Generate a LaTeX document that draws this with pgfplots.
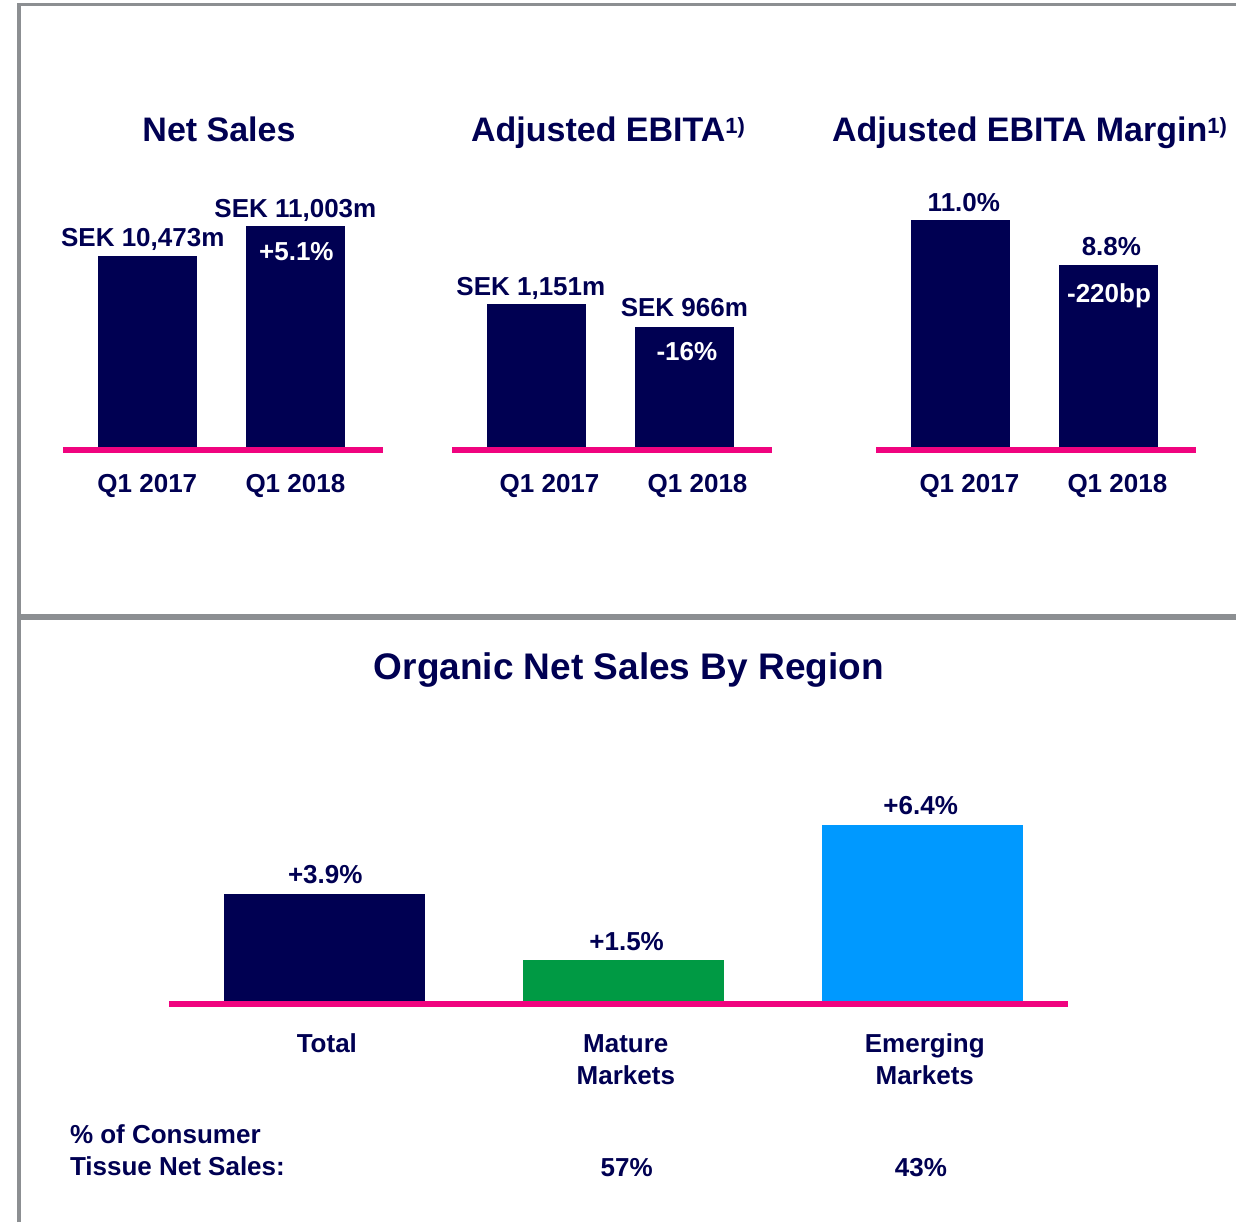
\documentclass[border=0pt]{standalone}
\usepackage{pgfplots}
\pgfplotsset{compat=1.18}
\usepackage{fontspec}
\setmainfont{Liberation Sans}
\definecolor{navy}{HTML}{000052}
\definecolor{pinkc}{HTML}{F0047F}
\definecolor{greenc}{HTML}{009A44}
\definecolor{bluec}{HTML}{0099FF}
\definecolor{framegray}{HTML}{8C8F92}
\newcommand\lab{\fontsize{13}{16}\selectfont\bfseries}
\newcommand\ttl{\fontsize{17}{20}\selectfont\bfseries}
\newcommand\bigttl{\fontsize{18.5}{22}\selectfont\bfseries}
\newcommand\supone{\raisebox{4.3pt}{\fontsize{11}{13}\selectfont 1)}}
\pgfplotsset{
  topaxis/.style={
    scale only axis, anchor=south west, width=160pt, height=140pt,
    xmin=-0.57, xmax=1.592,
    axis x line=bottom, axis y line=none,
    x axis line style={-, draw=pinkc, line width=2.85pt},
    axis on top,
    xtick={0,1}, xticklabels={Q1 2017, Q1 2018},
    major tick length=0pt, ytick=\empty,
    xticklabel style={font=\lab, text=navy, anchor=base, yshift=-21.3pt},
  },
  barstyle/.style={ybar, bar width=49.5pt, bar shift=0pt, fill=navy, draw=none},
  lbl/.style={nodes near coords, point meta=explicit symbolic,
     nodes near coords style={font=\lab, text=navy, anchor=base, yshift=#1}},
  inlbl/.style={ybar, bar width=49.5pt, bar shift=0pt, draw=none, fill=none,
     nodes near coords, point meta=explicit symbolic,
     nodes near coords style={font=\lab, text=white, anchor=base, yshift=#1}},
}
\begin{document}
\begin{tikzpicture}
\useasboundingbox (0,0) rectangle (618pt,611pt);
% frame
\draw[framegray, line width=2pt] (9.5pt,0pt) -- (9.5pt,609.65pt);
\draw[framegray, line width=1.65pt] (8.5pt,608.8pt) -- (618pt,608.8pt);
\draw[framegray, line width=3pt] (9.5pt,302.5pt) -- (618pt,302.5pt);
% titles
\node[inner sep=0pt, anchor=base, text=navy, font=\ttl] at (109.5pt,540.15pt) {Net Sales};
\node[inner sep=0pt, anchor=base west, text=navy, font=\ttl] at (235.35pt,540.15pt) {Adjusted EBITA\supone};
\node[inner sep=0pt, anchor=base west, text=navy, font=\ttl] at (415.85pt,540.15pt) {Adjusted EBITA Margin\supone};
\node[inner sep=0pt, anchor=base west, text=navy, font=\bigttl] at (186.75pt,271.2pt) {Organic Net Sales By Region};
% Net Sales
\begin{axis}[topaxis, at={(31.5pt,386pt)}, ymin=7045.6, ymax=11992.4]
\addplot[barstyle, lbl=4.65pt, nodes near coords style={xshift=-2.3pt}] coordinates {(0,10473) [SEK 10,473m]};
\addplot[barstyle, lbl=4.5pt] coordinates {(1,11003) [SEK 11,003m]};
\addplot[inlbl=-17.35pt, nodes near coords style={xshift=0.5pt}] coordinates {(1,11003) [+5.1\%]};
\end{axis}
% Adjusted EBITA
\begin{axis}[topaxis, at={(226pt,386pt)}, ymin=-24.1, ymax=2226.7,
  xticklabel style={xshift=6.6pt}]
\addplot[barstyle, lbl=4.15pt, nodes near coords style={xshift=-2.75pt}] coordinates {(0,1151) [SEK 1,151m]};
\addplot[barstyle, lbl=5pt] coordinates {(1,966) [SEK 966m]};
\addplot[inlbl=-16.7pt, nodes near coords style={xshift=1.25pt}] coordinates {(1,966) [-16\%]};
\end{axis}
% Adjusted EBITA Margin
\begin{axis}[topaxis, at={(438pt,386pt)}, ymin=-0.145, ymax=13.395,
  xticklabel style={xshift=4.5pt}]
\addplot[barstyle, lbl=3.8pt, nodes near coords style={xshift=1.75pt}] coordinates {(0,11.0) [11.0\%]};
\addplot[barstyle, lbl=4.65pt, nodes near coords style={xshift=1.5pt}] coordinates {(1,8.8) [8.8\%]};
\addplot[inlbl=-18.5pt, nodes near coords style={xshift=0.3pt}] coordinates {(1,8.8) [-220bp]};
\end{axis}
% Organic net sales by region
\begin{axis}[scale only axis, anchor=south west, at={(84.5pt,109pt)},
  width=449.5pt, height=112pt,
  xmin=-0.52, xmax=2.487, ymin=-0.109, ymax=8.036,
  axis x line=bottom, axis y line=none,
  x axis line style={-, draw=pinkc, line width=3pt},
  axis on top,
  xtick={0,1,2}, xticklabels={{Total\\\phantom{M}}, {Mature\\Markets}, {Emerging\\Markets}},
  major tick length=0pt, ytick=\empty,
  xticklabel style={font=\lab, text=navy, align=center, anchor=base, yshift=-40pt, xshift=1.2pt}]
\addplot[ybar, bar width=100.5pt, bar shift=0pt, fill=navy, draw=none, lbl=5pt,
  nodes near coords style={xshift=0.4pt}] coordinates {(0,3.9) [+3.9\%]};
\addplot[ybar, bar width=100.5pt, bar shift=0pt, fill=greenc, draw=none, lbl=4.65pt,
  nodes near coords style={xshift=1.6pt}] coordinates {(1,1.5) [+1.5\%]};
\addplot[ybar, bar width=100.5pt, bar shift=0pt, fill=bluec, draw=none, lbl=5.35pt,
  nodes near coords style={xshift=-0.85pt}] coordinates {(2,6.4) [+6.4\%]};
\end{axis}
% share of consumer tissue net sales
\node[inner sep=0pt, anchor=base west, text=navy, font=\lab] at (34.8pt,39.25pt) {\% of Consumer};
\node[inner sep=0pt, anchor=base west, text=navy, font=\lab] at (34.8pt,23.5pt) {Tissue Net Sales:};
\node[inner sep=0pt, anchor=base, text=navy, font=\lab] at (313.35pt,22.65pt) {57\%};
\node[inner sep=0pt, anchor=base, text=navy, font=\lab] at (460.5pt,22.65pt) {43\%};
\end{tikzpicture}
\end{document}
